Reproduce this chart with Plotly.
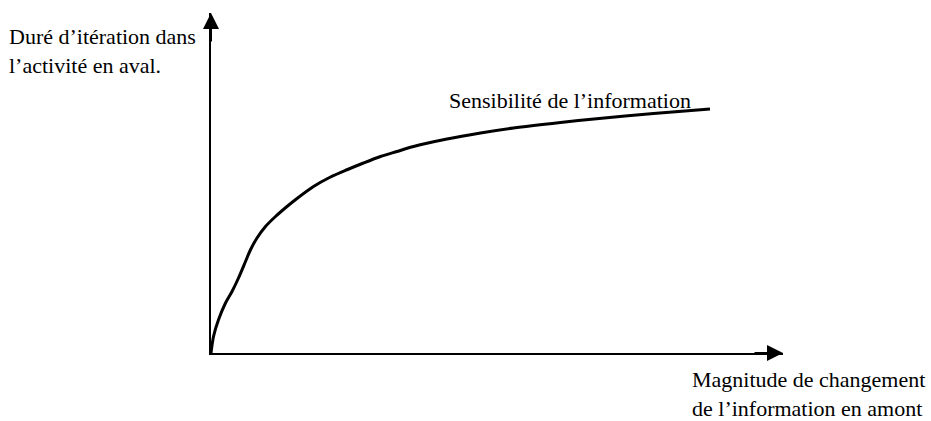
import plotly.graph_objects as go

# Curve "Sensibilité de l'information" (arbitrary units)
magnitude = [0, 0.05, 0.15, 0.29, 0.42, 0.55, 0.69, 0.79, 0.92, 1.09, 1.29, 1.52, 1.72, 2.05,
             2.39, 2.72, 3.05, 3.39, 3.72, 4.05, 4.72, 5.39, 6.05, 6.99, 7.66, 8.85, 9.98]
duree = [0, 0.66, 1.33, 2.0, 2.46, 3.0, 3.66, 4.13, 4.6, 5.06, 5.46, 5.86, 6.18, 6.66,
         7.04, 7.33, 7.6, 7.86, 8.06, 8.26, 8.56, 8.8, 9.0, 9.22, 9.36, 9.58, 9.76]

x_label = "Magnitude de changement<br>de l’information en amont"
y_label = "Duré d’itération dans<br>l’activité en aval."
curve_label = "Sensibilité de l’information"

X_MAX = 11.44
Y_MAX = 13.6
FONT = "Liberation Serif, Times New Roman, serif"

fig = go.Figure()
fig.add_trace(go.Scatter(
    x=magnitude, y=duree, mode="lines",
    line=dict(color="black", width=3, shape="spline", smoothing=0.8),
    hoverinfo="skip", showlegend=False,
))

axis_common = dict(showgrid=False, zeroline=False, showticklabels=False, ticks="",
                   showline=True, linecolor="black", linewidth=2, fixedrange=True)
fig.update_xaxes(range=[0, X_MAX], **axis_common)
fig.update_yaxes(range=[0, Y_MAX], **axis_common)

# Arrow heads on the axes
fig.add_annotation(x=X_MAX, y=0, ax=X_MAX - 0.6, ay=0, xref="x", yref="y", axref="x", ayref="y",
                   text="", showarrow=True, arrowhead=2, arrowsize=1.6, arrowwidth=2,
                   arrowcolor="black", standoff=0)
fig.add_annotation(x=0, y=Y_MAX, ax=0, ay=Y_MAX - 1.2, xref="x", yref="y", axref="x", ayref="y",
                   text="", showarrow=True, arrowhead=2, arrowsize=1.6, arrowwidth=2,
                   arrowcolor="black", standoff=0)

# Labels (paper coordinates; plot area spans x 211..783 px, y 13..353 px)
def px_x(p):
    return (p - 211) / 572.0

def px_y(p):
    return (353 - p) / 340.0

fig.add_annotation(x=px_x(7), y=px_y(51), xref="paper", yref="paper", text=y_label, showarrow=False,
                   xanchor="left", yanchor="middle", align="left",
                   font=dict(family=FONT, size=22, color="black"))
fig.add_annotation(x=px_x(447), y=px_y(100), xref="paper", yref="paper", text=curve_label, showarrow=False,
                   xanchor="left", yanchor="middle", align="left",
                   font=dict(family=FONT, size=22, color="black"))
fig.add_annotation(x=px_x(690), y=px_y(394), xref="paper", yref="paper", text=x_label, showarrow=False,
                   xanchor="left", yanchor="middle", align="left",
                   font=dict(family=FONT, size=22, color="black"))

fig.update_layout(
    width=931, height=421,
    margin=dict(l=211, r=148, t=13, b=68, autoexpand=False),
    paper_bgcolor="white", plot_bgcolor="white",
    showlegend=False,
)

fig.write_html("out.html", config={"displayModeBar": False},
               post_script="document.body.style.margin='0';document.body.style.padding='0';")
